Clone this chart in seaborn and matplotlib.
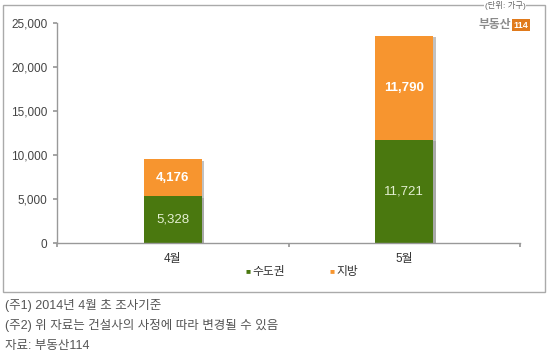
import numpy as np
import pandas as pd
import matplotlib
matplotlib.use('Agg')
import matplotlib.pyplot as plt
import matplotlib.patheffects as pe
from matplotlib.patches import Rectangle
import seaborn as sns

# ---- data ----
months = ['4월', '5월']
capital = [5328, 11721]     # 수도권
local = [4176, 11790]       # 지방
yticks = [0, 5000, 10000, 15000, 20000, 25000]
notes = ['(주1) 2014년 4월 초 조사기준',
         '(주2) 위 자료는 건설사의 사정에 따라 변경될 수 있음',
         '자료: 부동산114']

green = '#4a780f'
orange = '#f7952f'

sns.set_theme(style='white')
plt.rcParams['font.family'] = ['Liberation Sans', 'Noto Sans CJK KR', 'DejaVu Sans']

df = pd.DataFrame({'month': months, 'capital': capital, 'local': local})
df['total'] = df['capital'] + df['local']

fig = plt.figure(figsize=(5.5, 3.6), dpi=100)
ax = fig.add_axes([57 / 550, 1 - 243 / 360, 463 / 550, 220 / 360])

shadow = [pe.SimplePatchShadow(offset=(2, -1), shadow_rgbFace='#999999', alpha=0.6), pe.Normal()]

# stacked bars: total (orange) behind, capital (green) in front
sns.barplot(data=df, x='month', y='total', color=orange, width=0.25,
            saturation=1, ax=ax, linewidth=0)
sns.barplot(data=df, x='month', y='capital', color=green, width=0.25,
            saturation=1, ax=ax, linewidth=0)
for p in ax.patches:
    p.set_path_effects(shadow)

for i, (c, l) in enumerate(zip(capital, local)):
    ax.text(i, c / 2, f'{c:,}', ha='center', va='center', color='#e4f0d2', fontsize=9.5)
    ax.text(i, c + l / 2, f'{l:,}', ha='center', va='center', color='white',
            fontsize=9.5, fontweight='bold')

ax.set_xlim(-0.5, 1.5)
ax.set_ylim(0, 25000)
ax.set_yticks(yticks)
ax.set_yticklabels([f'{v:,}' for v in yticks], fontsize=8.5, color='#444444')
ax.set_xticks([-0.5, 0.5, 1.5])
ax.set_xticklabels(['', '', ''])
ax.set_xticks([0, 1], minor=True)
ax.set_xticklabels(months, minor=True, fontsize=8.5, color='#333333')
ax.tick_params(axis='x', which='major', length=3, color='#999999', bottom=True)
ax.tick_params(axis='x', which='minor', length=0, pad=7)
ax.tick_params(axis='y', length=3, color='#999999', left=True, pad=4)
ax.set_xlabel('')
ax.set_ylabel('')
for s in ['top', 'right']:
    ax.spines[s].set_visible(False)
for s in ['left', 'bottom']:
    ax.spines[s].set_color('#999999')
    ax.spines[s].set_linewidth(1)

# legend
fig.text(245 / 550, 1 - 272 / 360, '■', color=green, fontsize=6, va='center', ha='left')
fig.text(252 / 550, 1 - 272 / 360, '수도권', color='#333333', fontsize=8.5, va='center', ha='left')
fig.text(329 / 550, 1 - 272 / 360, '■', color=orange, fontsize=6, va='center', ha='left')
fig.text(336 / 550, 1 - 272 / 360, '지방', color='#333333', fontsize=8.5, va='center', ha='left')

# logo
fig.text(511 / 550, 1 - 25 / 360, '부동산', color='#8a8a8a', fontsize=8.5,
         fontweight='bold', va='center', ha='right')
fig.text(521 / 550, 1 - 25 / 360, '114', color='white', fontsize=6.5, fontweight='bold',
         va='center', ha='center',
         bbox=dict(boxstyle='square,pad=0.2', fc='#e07a1c', ec='none'))

# outer frame
fig.patches.append(Rectangle((3 / 550, 1 - 292 / 360), 542 / 550, 287 / 360,
                             transform=fig.transFigure, fill=False,
                             edgecolor='#aaaaaa', linewidth=1))

# unit label at the top edge of the frame
fig.text(505 / 550, 1 - 1 / 360, '(단위: 가구)', color='#666666', fontsize=6,
         va='top', ha='center', zorder=5,
         bbox=dict(boxstyle='square,pad=0.05', fc='white', ec='none'))

# footnotes
for k, t in enumerate(notes):
    fig.text(5 / 550, 1 - (306 + 20 * k) / 360, t, color='#555555', fontsize=9,
             va='center', ha='left')

fig.savefig('out.png', dpi=100)
